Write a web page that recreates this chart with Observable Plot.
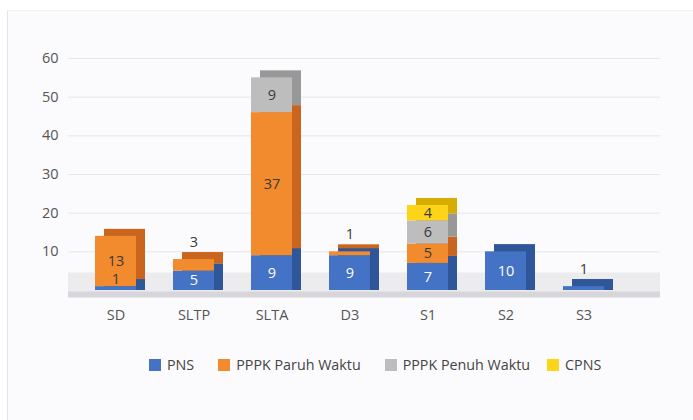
<!DOCTYPE html>
<html>
<head>
<meta charset="utf-8">
<script src="https://cdn.jsdelivr.net/npm/d3@7"></script>
<script src="https://cdn.jsdelivr.net/npm/@observablehq/plot@0.6"></script>
<style>
  html, body { margin: 0; padding: 0; background: #ffffff; width: 693px; height: 420px; overflow: hidden; font-family: "Open Sans", sans-serif; }
  #panel { position: absolute; left: 7px; top: 10px; width: 686px; height: 410px; background: #fbfbfd; border-left: 1px solid #e4e4e8; border-top: 1px solid #f0f0f2; }
  #chart { position: absolute; left: 0; top: 0; }
  #legend { position: absolute; left: 0; top: 355px; width: 693px; box-sizing: border-box; padding-left: 149px; display: flex; justify-content: flex-start; gap: 24px; font-size: 14.3px; color: #444; }
  .item { display: flex; align-items: center; gap: 6px; }
  .item:last-child { margin-left: -7px; }
  .sw { width: 12px; height: 12px; display: inline-block; }
</style>
</head>
<body>
<div id="panel"></div>
<div id="chart"></div>
<div id="legend"></div>
<script>
const kategori = ["SD", "SLTP", "SLTA", "D3", "S1", "S2", "S3"];
const seri = ["PNS", "PPPK Paruh Waktu", "PPPK Penuh Waktu", "CPNS"];
const pns       = [1, 5, 9, 9, 7, 10, 1];
const pppkParuh = [13, 3, 37, 1, 5, 0, 0];
const pppkPenuh = [0, 0, 9, 0, 6, 0, 0];
const cpns      = [0, 0, 0, 0, 4, 0, 0];
const yTicks = [10, 20, 30, 40, 50, 60];

const warnaDepan = ["#4472c4", "#f28a2e", "#bdbdbd", "#fdd417"];
const warnaSisi  = ["#2e5698", "#c9651c", "#989898", "#d6ad00"];
const warnaTeks  = ["#ffffff", "#3a3a3a", "#3a3a3a", "#3a3a3a"];

const nilaiSeri = [pns, pppkParuh, pppkPenuh, cpns];
const data = [];
kategori.forEach((k, i) => {
  let last = -1;
  seri.forEach((s, j) => { if (nilaiSeri[j][i] > 0) last = j; });
  seri.forEach((s, j) => {
    const v = nilaiSeri[j][i];
    if (v > 0) data.push({ kat: k, seri: s, nilai: v, atas: j === last });
  });
});

const sisi = new Map(seri.map((s, j) => [s, warnaSisi[j]]));
const teks = new Map(seri.map((s, j) => [s, warnaTeks[j]]));
const dasar = data.filter(d => d.seri === seri[0]);

const chart = Plot.plot({
  width: 693,
  height: 335,
  marginTop: 58,
  marginBottom: 45,
  marginLeft: 68,
  marginRight: 33,
  style: { fontFamily: "Open Sans, sans-serif", fontSize: "14.5px", color: "#555", background: "transparent" },
  x: { domain: kategori, padding: 0.47, insetLeft: -12.5, insetRight: 15.5, label: null, tickSize: 0, tickPadding: 19 },
  y: { domain: [0, 60], ticks: yTicks, label: null, tickSize: 0, tickPadding: 10, grid: false },
  color: { domain: seri, range: warnaDepan },
  marks: [
    Plot.gridY(yTicks, { stroke: "#e6e6ea", strokeOpacity: 1 }),
    Plot.ruleY([0], { stroke: "#ececef", strokeWidth: 20, dy: -8 }),
    Plot.ruleY([0], { stroke: "#d6d6db", strokeWidth: 6, dy: 4 }),
    Plot.barY(dasar, { x: "kat", y: "nilai", fill: d => sisi.get(d.seri), dx: 9, dy: -7, insetBottom: -7 }),
    Plot.barY(data, { x: "kat", y: "nilai", z: "seri", fill: d => sisi.get(d.seri), dx: 9, dy: -7 }),
    Plot.barY(data, { x: "kat", y: "nilai", z: "seri", fill: "seri" }),
    Plot.text(data, Plot.stackY({ x: "kat", y: "nilai", z: "seri", text: d => d.nilai >= 4 ? String(d.nilai) : null, fill: d => teks.get(d.seri), fontSize: 14.5 })),
    Plot.text(data, Plot.stackY2({ x: "kat", y: "nilai", z: "seri", text: d => d.nilai < 4 && !d.atas ? String(d.nilai) : null, fill: "#3a3a3a", fontSize: 14.5, dy: -7 })),
    Plot.text(data, Plot.stackY2({ x: "kat", y: "nilai", z: "seri", text: d => d.nilai < 4 && d.atas ? String(d.nilai) : null, fill: "#3a3a3a", fontSize: 14.5, dy: -17 }))
  ]
});
document.getElementById("chart").appendChild(chart);

const legend = document.getElementById("legend");
seri.forEach((s, j) => {
  const it = document.createElement("div");
  it.className = "item";
  it.innerHTML = `<span class="sw" style="background:${warnaDepan[j]}"></span><span>${s}</span>`;
  legend.appendChild(it);
});
</script>
</body>
</html>
